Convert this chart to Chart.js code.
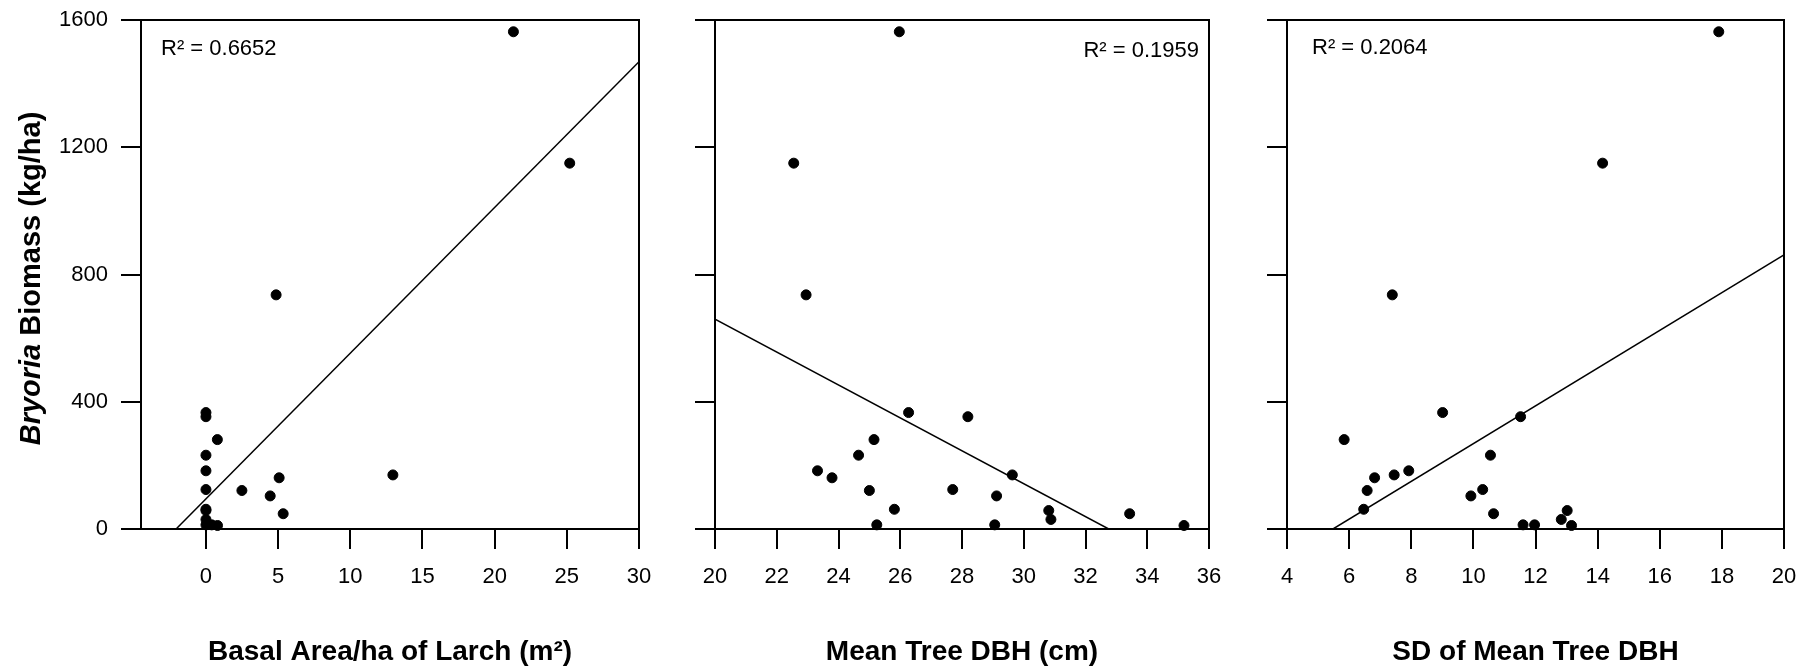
<!DOCTYPE html>
<html>
<head>
<meta charset="utf-8">
<title>Bryoria biomass vs stand structure</title>
<script src="https://cdn.jsdelivr.net/npm/chart.js@4.4.1/dist/chart.umd.min.js"></script>
<style>
    html, body { margin: 0; padding: 0; background: #fff; }
    #wrap { position: relative; width: 1802px; height: 666px; }
    canvas { position: absolute; top: 0; }
</style>
</head>
<body>
<div id="wrap">
    <canvas id="basalChart" width="660" height="666" style="left:0"></canvas>
    <canvas id="dbhChart" width="580" height="666" style="left:660px"></canvas>
    <canvas id="sdChart" width="562" height="666" style="left:1240px"></canvas>
</div>
<script>
// Bryoria biomass per site (kg/ha) - same sites in every panel
const biomass = [1563, 1150, 736, 366, 353, 281, 232, 183, 170, 161, 124, 121, 104, 62, 58, 48, 30, 13, 13, 11];

// Site predictors
const larchBasalArea = [21.3, 25.2, 4.86, 0, 0, 0.79, 0, 0, 12.95, 5.07, 0, 2.49, 4.45, 0, 0, 5.35, 0, 0, 0.4, 0.8];
const meanDbh = [25.97, 22.55, 22.95, 26.27, 28.19, 25.15, 24.65, 23.32, 29.63, 23.79, 27.7, 25.0, 29.12, 25.81, 30.81, 33.43, 30.88, 25.24, 29.06, 35.19];
const sdDbh = [17.9, 14.16, 7.39, 9.01, 11.52, 5.84, 10.55, 7.92, 7.45, 6.82, 10.3, 6.58, 9.92, 6.47, 13.02, 10.65, 12.83, 11.6, 11.97, 13.16];

// Regression line end points
const basalFitX = [-2.07, 30];
const basalFitY = [0, 1469];
const dbhFitX = [20, 32.75];
const dbhFitY = [660, 0];
const sdFitX = [5.48, 20];
const sdFitY = [0, 862];

// Axis ticks
const biomassTicks = [0, 400, 800, 1200, 1600];
const basalTicks = [0, 5, 10, 15, 20, 25, 30];
const dbhTicks = [20, 22, 24, 26, 28, 30, 32, 34, 36];
const sdTicks = [4, 6, 8, 10, 12, 14, 16, 18, 20];

const rSquared = ['R\u00B2 = 0.6652', 'R\u00B2 = 0.1959', 'R\u00B2 = 0.2064'];

const FONT = 'Arial, "Liberation Sans", sans-serif';

// Chart.js only strokes the axis sides, so close the box here
const frameBox = {
    id: 'frameBox',
    afterDraw(chart) {
        const a = chart.chartArea;
        const ctx = chart.ctx;
        ctx.save();
        ctx.strokeStyle = '#000';
        ctx.lineWidth = 2;
        ctx.strokeRect(a.left, a.top, a.right - a.left, a.bottom - a.top);
        ctx.restore();
    }
};

// R^2 annotation inside the plot area
const rLabel = {
    id: 'rLabel',
    afterDraw(chart, args, opts) {
        const a = chart.chartArea;
        const ctx = chart.ctx;
        ctx.save();
        ctx.font = '22px ' + FONT;
        ctx.fillStyle = '#000';
        ctx.textBaseline = 'alphabetic';
        ctx.textAlign = opts.align;
        const x = opts.align === 'right' ? a.right - opts.dx : a.left + opts.dx;
        ctx.fillText(opts.text, x, a.top + opts.dy);
        ctx.restore();
    }
};

// Rotated y title, genus name in italics
const yTitle = {
    id: 'yTitle',
    afterDraw(chart, args, opts) {
        const a = chart.chartArea;
        const ctx = chart.ctx;
        const italic = 'italic bold 29px ' + FONT;
        const plain = 'bold 29px ' + FONT;
        ctx.save();
        ctx.translate(opts.x, (a.top + a.bottom) / 2 + opts.dy);
        ctx.rotate(-Math.PI / 2);
        ctx.fillStyle = '#000';
        ctx.textBaseline = 'middle';
        ctx.textAlign = 'left';
        ctx.font = italic;
        const w1 = ctx.measureText(opts.italic).width;
        ctx.font = plain;
        const w2 = ctx.measureText(opts.rest).width;
        const start = -(w1 + w2) / 2;
        ctx.font = italic;
        ctx.fillText(opts.italic, start, 0);
        ctx.font = plain;
        ctx.fillText(opts.rest, start + w1, 0);
        ctx.restore();
    }
};

const Panels = {
    charts: [],

    render: function () {
        this.charts.push(this.build('basalChart', {
            xs: larchBasalArea, fitX: basalFitX, fitY: basalFitY,
            min: -4.5, max: 30, ticks: basalTicks,
            title: 'Basal Area/ha of Larch (m\u00B2)',
            yWidth: 141, padRight: 21, showYLabels: true,
            r2: { text: rSquared[0], align: 'left', dx: 20, dy: 35 },
            extra: [yTitle]
        }));
        this.charts.push(this.build('dbhChart', {
            xs: meanDbh, fitX: dbhFitX, fitY: dbhFitY,
            min: 20, max: 36, ticks: dbhTicks,
            title: 'Mean Tree DBH (cm)',
            yWidth: 55, padRight: 31, showYLabels: false,
            r2: { text: rSquared[1], align: 'right', dx: 10, dy: 37 },
            extra: []
        }));
        this.charts.push(this.build('sdChart', {
            xs: sdDbh, fitX: sdFitX, fitY: sdFitY,
            min: 4, max: 20, ticks: sdTicks,
            title: 'SD of Mean Tree DBH',
            yWidth: 47, padRight: 18, showYLabels: false,
            r2: { text: rSquared[2], align: 'left', dx: 25, dy: 34 },
            extra: []
        }));
    },

    build: function (id, cfg) {
        const tickGrid = {
            drawOnChartArea: false,
            drawTicks: true,
            tickLength: 20,
            lineWidth: 2,
            color: '#000'
        };

        return new Chart(document.getElementById(id), {
            type: 'scatter',
            data: {
                datasets: [{
                    data: cfg.xs.map((x, i) => ({ x: x, y: biomass[i] })),
                    backgroundColor: '#000',
                    borderColor: '#000',
                    pointRadius: 5,
                    pointHoverRadius: 5,
                    clip: false
                }, {
                    data: cfg.fitX.map((x, i) => ({ x: x, y: cfg.fitY[i] })),
                    showLine: true,
                    borderColor: '#000',
                    borderWidth: 1.5,
                    pointRadius: 0
                }]
            },
            options: {
                responsive: false,
                animation: false,
                events: [],
                layout: {
                    autoPadding: false,
                    padding: { left: 0, top: 20, right: cfg.padRight, bottom: 0 }
                },
                plugins: {
                    legend: { display: false },
                    tooltip: { enabled: false },
                    rLabel: cfg.r2,
                    yTitle: { x: 32, dy: 4, italic: 'Bryoria', rest: ' Biomass (kg/ha)' }
                },
                scales: {
                    x: {
                        type: 'linear',
                        min: cfg.min,
                        max: cfg.max,
                        afterBuildTicks: axis => { axis.ticks = cfg.ticks.map(v => ({ value: v })); },
                        // fixed band height, and no extra room for edge labels
                        afterFit: axis => {
                            axis.height = 137;
                            axis.paddingLeft = 0;
                            axis.paddingRight = 0;
                        },
                        border: { display: false },
                        grid: tickGrid,
                        ticks: {
                            color: '#000',
                            font: { family: FONT, size: 22 },
                            padding: 15,
                            maxRotation: 0,
                            autoSkip: false,
                            callback: v => String(v)
                        },
                        title: {
                            display: true,
                            text: cfg.title,
                            color: '#000',
                            font: { family: FONT, size: 28, weight: 'bold', lineHeight: 1 },
                            padding: 0
                        }
                    },
                    y: {
                        type: 'linear',
                        min: 0,
                        max: 1600,
                        afterBuildTicks: axis => { axis.ticks = biomassTicks.map(v => ({ value: v })); },
                        afterFit: axis => {
                            axis.width = cfg.yWidth;
                            axis.paddingTop = 0;
                            axis.paddingBottom = 0;
                        },
                        border: { display: false },
                        grid: tickGrid,
                        ticks: {
                            display: cfg.showYLabels,
                            color: '#000',
                            font: { family: FONT, size: 22 },
                            padding: 13,
                            callback: v => String(v)
                        }
                    }
                }
            },
            plugins: [frameBox, rLabel].concat(cfg.extra)
        });
    }
};

Panels.render();
</script>
</body>
</html>
